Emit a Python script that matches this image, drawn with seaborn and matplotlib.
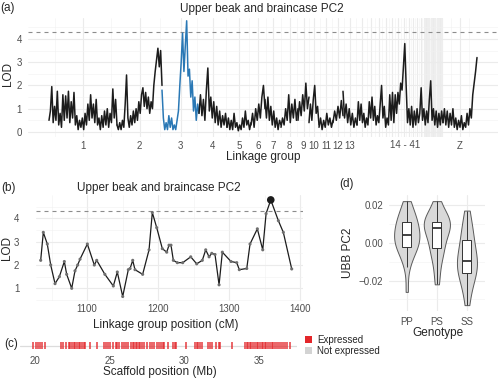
import numpy as np
import pandas as pd
import matplotlib
matplotlib.use('Agg')
import matplotlib.pyplot as plt
import seaborn as sns
from matplotlib.patches import Patch


# panel (a): genome-wide scan, one LOD list per linkage group block
chrom_names = ['1', '2', '3', '4', '5', '6', '7', '8', '9', '10', '11', '12', '13', '14-41', 'Z']
chrom_lengths = [68, 45, 37, 28, 24, 14, 16, 17, 11, 10, 14, 10, 14, 86, 34]
small_chrom_lengths = [10, 8, 7, 7, 6, 6, 5, 5, 4, 4, 4] + [20 / 17] * 17  # groups 14 - 41

lod_1 = [0.5, 0.9, 1.95, 0.4, 1.1, 0.5, 1.75, 0.3, 0.8, 0.2, 1.6, 0.5, 1.55, 0.6, 1.75, 0.4, 1.3,
         0.6, 1.7, 0.3, 0.7, 0.1, 0.5, 0.2, 0.6, 0.1, 0.8, 0.3, 1.2, 0.5, 1.6, 0.6, 1.2, 0.4, 1.4,
         0.3, 0.6, 0.1, 0.7, 0.2, 0.9, 0.3, 1.0, 0.2, 0.8, 0.4, 1.85, 0.6, 1.4, 0.3]
lod_2 = [0.3, 0.1, 0.4, 0.1, 0.5, 0.2, 1.2, 2.45, 0.6, 0.2, 0.7, 0.3, 0.9, 0.4, 1.0, 0.5, 1.3,
         0.8, 1.6, 1.9, 1.1, 1.7, 1.0, 1.5, 0.8, 1.3, 1.0, 2.0, 2.6, 3.1, 3.6, 2.8, 3.5, 2.0]
lod_3 = [1.8, 0.6, 0.1, 0.4, 0.1, 0.7, 0.2, 0.6, 0.1, 0.3, 0.1, 0.5, 0.9, 2.0, 3.0, 4.25, 2.6,
         3.7, 4.78, 2.4, 2.7, 1.5, 2.2, 0.9, 1.5, 0.5, 1.2, 0.8]
lod_4 = [0.8, 1.6, 0.7, 1.4, 0.5, 1.8, 2.75, 0.9, 1.5, 0.6, 1.3, 0.4, 1.1, 0.3, 0.9, 0.2, 0.7,
         0.3, 0.8, 0.2]
lod_5 = [0.2, 0.6, 0.1, 0.5, 0.1, 0.8, 0.2, 0.4, 0.05, 0.3, 0.1, 0.6, 0.2, 0.9, 0.3, 0.5, 0.1, 0.4]
lod_6 = [0.3, 0.8, 0.2, 1.0, 0.5, 1.2, 0.6, 1.5, 2.0, 1.0]
lod_7 = [1.4, 0.6, 1.5, 0.5, 1.1, 0.3, 0.9, 0.2, 0.6, 0.1, 0.5, 0.3]
lod_8 = [0.2, 0.6, 0.3, 1.0, 0.5, 1.6, 0.4, 1.2, 0.6, 1.4, 0.5, 1.0]
lod_9 = [0.5, 1.3, 0.7, 1.6, 0.9, 2.1, 1.0, 1.5]
lod_10 = [0.4, 1.2, 0.5, 1.4, 2.0, 0.8, 1.1, 0.3]
lod_11 = [0.2, 0.6, 0.1, 0.5, 0.2, 0.8, 0.3, 0.6, 0.2, 0.5]
lod_12 = [0.4, 0.9, 0.5, 1.1, 0.6, 1.35, 0.7]
lod_13 = [1.75, 0.6, 1.2, 0.4, 1.0, 0.3, 0.8, 0.2, 0.6, 0.3]
lod_14_41 = [0.3, 1.3, 0.5, 1.2, 0.4, 0.8, 0.2, 0.6, 0.3, 1.3, 0.6, 1.5, 0.5, 1.1, 0.3, 0.7, 0.4,
             1.2, 2.0, 0.6, 1.1, 0.2, 0.6, 0.3, 1.6, 0.5, 1.7, 0.4, 1.6, 0.8, 1.7, 1.2, 2.1, 1.8,
             2.8, 3.8, 2.0, 0.4, 1.0, 0.3, 1.1, 0.2, 0.9, 0.3, 1.0, 0.4, 0.8, 1.9, 0.5, 1.0, 0.3,
             0.9, 0.4, 1.4, 2.2, 0.5, 1.0, 0.3, 0.9, 0.2, 0.8, 0.3, 0.9, 0.4]
lod_z = [0.4, 1.0, 0.3, 0.9, 0.2, 0.8, 0.3, 1.0, 0.2, 0.6, 0.1, 0.5, 0.2, 0.7, 0.1, 0.4, 0.2, 0.8,
         0.3, 1.0, 0.6, 1.6, 2.1, 2.6, 3.2]
lod_by_group = [lod_1, lod_2, lod_3, lod_4, lod_5, lod_6, lod_7, lod_8, lod_9, lod_10,
                lod_11, lod_12, lod_13, lod_14_41, lod_z]
lod_threshold = 4.3

# panel (b): zoom on the QTL linkage group
lg_position_cm = [1034.6, 1038.3, 1043.9, 1048.7, 1054.8, 1060.9, 1067.9, 1071.2, 1078.3, 1082.9,
                  1086.7, 1090.0, 1100.3, 1110.1, 1113.5, 1125.0, 1136.9, 1142.5, 1150.1, 1158.0,
                  1160.5, 1164.2, 1167.4, 1178.2, 1187.2, 1191.8, 1198.0, 1205.9, 1212.1, 1215.3,
                  1218.1, 1221.4, 1227.0, 1234.6, 1245.9, 1254.3, 1262.2, 1267.0, 1271.7, 1275.5,
                  1280.1, 1285.8, 1290.4, 1302.6, 1310.7, 1314.3, 1324.8, 1329.4, 1339.7, 1347.3,
                  1352.0, 1358.6, 1369.3, 1376.3, 1388.1]
lg_lod = [2.2, 3.4, 2.9, 2.0, 1.2, 1.5, 2.15, 1.6, 1.0, 1.75, 2.0, 2.25, 2.9, 2.0, 2.2, 1.6, 1.1,
          1.7, 0.65, 1.8, 1.85, 2.2, 1.8, 1.6, 2.65, 4.25, 3.6, 2.7, 2.55, 2.85, 2.85, 2.2, 2.1,
          2.1, 2.35, 2.05, 2.2, 2.65, 2.35, 2.5, 2.45, 1.15, 2.55, 2.15, 2.1, 1.8, 1.85, 2.9,
          3.55, 2.65, 4.2, 4.79, 3.9, 3.4, 1.83]

# panel (c): genes on the scaffold (Mb)
expressed_genes_mb = [19.9, 20.05, 20.2, 20.35, 20.5, 20.7,
                      21.72, 21.9, 22.08, 22.25, 22.35, 22.48, 22.6, 22.7, 22.82, 22.93, 23.05,
                      23.15, 23.27, 23.38, 23.7, 24.15,
                      24.6, 24.75, 24.9, 25.05, 25.2, 25.4, 25.5, 25.65, 25.8, 25.95, 26.1,
                      26.25, 26.4, 26.55, 26.65, 26.75, 26.85, 26.95, 27.05, 27.15, 27.3, 27.5,
                      27.7, 27.85, 28.0, 28.15, 28.3, 28.45, 28.55, 28.65, 28.9,
                      29.25, 29.35, 29.45, 30.1,
                      30.75, 30.85, 30.95, 31.05, 31.2, 31.6, 31.72, 31.85, 32.15, 32.3, 32.4,
                      33.17,
                      34.1, 34.2, 34.3, 34.4, 34.5, 34.6, 34.75, 34.85, 34.95, 35.05, 35.2,
                      35.3, 35.4, 35.5, 35.6, 35.75, 35.85, 35.95, 36.1, 36.2, 36.35, 36.5,
                      36.6, 36.75, 36.9, 37.05]

# panel (d): UBB PC2 by genotype
genotypes = ['PP', 'PS', 'SS']
pc2_pp = [-0.026, -0.013, -0.009, -0.006, -0.004, -0.003, -0.002, -0.001, 0.000, 0.001, 0.002,
          0.003, 0.004, 0.005, 0.006, 0.007, 0.009, 0.010, 0.011, 0.012, 0.013, 0.015, 0.017,
          0.019, 0.022]
pc2_ps = [-0.022, -0.018, -0.012, -0.008, -0.006, -0.004, -0.003, -0.001, 0.001, 0.003, 0.005,
          0.007, 0.008, 0.009, 0.009, 0.010, 0.010, 0.011, 0.011, 0.012, 0.013, 0.014, 0.016,
          0.019, 0.022]
pc2_ss = [-0.033, -0.027, -0.022, -0.019, -0.017, -0.016, -0.014, -0.012, -0.011, -0.010,
          -0.009, -0.007, -0.005, -0.003, 0.001, 0.003, 0.005, 0.008, 0.012, 0.017]

GRID = '#EBEBEB'
GRID_MINOR = '#F1F1F1'
TICK = '#4D4D4D'
BLACK = '#1C1C1C'
BLUE = '#2A78B5'
RED = '#E3262A'
W, H = 500, 380

sns.set_style('white')
plt.rcParams['font.family'] = ['Liberation Sans', 'DejaVu Sans']

fig = plt.figure(figsize=(W / 100, H / 100), dpi=100)


def add_panel(left, top, right, bottom):
    return fig.add_axes([left / W, 1 - bottom / H, (right - left) / W, (bottom - top) / H])


def put(x, y, s, size=8.5, **kw):
    fig.text(x / W, 1 - y / H, s, ha='center', va='center', fontsize=size, **kw)


def style_axes(ax, xpad, ypad):
    for sp in ax.spines.values():
        sp.set_visible(False)
    ax.tick_params(which='both', length=0, labelsize=7, labelcolor=TICK)
    ax.tick_params(axis='x', pad=xpad)
    ax.tick_params(axis='y', pad=ypad)
    ax.grid(which='major', color=GRID, lw=0.8)
    ax.grid(which='minor', color=GRID_MINOR, lw=0.4)
    ax.set_axisbelow(True)
    ax.set_xlabel('')
    ax.set_ylabel('')


def dashed_threshold(ax):
    ax.axhline(lod_threshold, color='#8C8C8C', lw=0.8, ls=(0, (3.6, 3.6)), zorder=1)


# ---------------- (a) ----------------
ax_a = add_panel(28, 18, 498, 137.3)
starts = np.concatenate([[0], np.cumsum(chrom_lengths)[:-1]])
parts = []
for name, start, length, lod in zip(chrom_names, starts, chrom_lengths, lod_by_group):
    pos = np.linspace(start, start + length, len(lod))
    parts.append(pd.DataFrame({'pos': pos, 'lod': lod, 'chrom': name}))
scan = pd.concat(parts, ignore_index=True)

palette = {c: BLACK for c in chrom_names}
palette['3'] = BLUE
sns.lineplot(data=scan, x='pos', y='lod', hue='chrom', palette=palette, estimator=None,
             legend=False, lw=1.1, ax=ax_a)
dashed_threshold(ax_a)

mids = [s + l / 2 for s, l in zip(starts[:13], chrom_lengths[:13])]
small_edges = starts[13] + np.concatenate([[0], np.cumsum(small_chrom_lengths)])
small_mids = (small_edges[:-1] + small_edges[1:]) / 2
z_mid = starts[14] + chrom_lengths[14] / 2
major = np.concatenate([mids, small_mids, [z_mid]])
minor = np.concatenate([[major[0] - (major[1] - major[0]) / 2],
                        (major[:-1] + major[1:]) / 2,
                        [major[-1] + (major[-1] - major[-2]) / 2]])
ax_a.set_xticks(major)
ax_a.set_xticklabels(chrom_names[:13] + [''] * len(small_mids) + ['Z'])
ax_a.set_xticks(minor, minor=True)
ax_a.set_yticks([0, 1, 2, 3, 4])
ax_a.set_yticks(np.arange(0.5, 5, 1), minor=True)
ax_a.set_xlim(-21, 449)
ax_a.set_ylim(-0.23, 4.9)
style_axes(ax_a, 3, 4.3)
put(405, 144.8, '14 - 41', size=7, color=TICK)

put(7.5, 8, '(a)')
put(262, 9, 'Upper beak and braincase PC2')
put(263.5, 157, 'Linkage group')
put(8, 74, 'LOD', rotation=90)

# ---------------- (b) ----------------
ax_b = add_panel(36, 195, 303, 301.4)
lg = pd.DataFrame({'cm': lg_position_cm, 'lod': lg_lod})
sns.lineplot(data=lg, x='cm', y='lod', color=BLACK, lw=0.9, sort=False, ax=ax_b)
sns.scatterplot(data=lg, x='cm', y='lod', color='#6E6E6E', s=5, edgecolor='none', ax=ax_b, zorder=3)
peak = lg.loc[[lg['lod'].idxmax()]]
sns.scatterplot(data=peak, x='cm', y='lod', color=BLACK, s=30, edgecolor='none', ax=ax_b, zorder=4)
dashed_threshold(ax_b)
ax_b.set_xticks([1100, 1200, 1300, 1400])
ax_b.set_xticks([1050, 1150, 1250, 1350], minor=True)
ax_b.set_yticks([1, 2, 3, 4])
ax_b.set_yticks([0.5, 1.5, 2.5, 3.5, 4.5], minor=True)
ax_b.set_xlim(1028, 1404)
ax_b.set_ylim(0.44, 5.0)
style_axes(ax_b, 2, 12)

put(8, 188, '(b)')
put(159, 188.5, 'Upper beak and braincase PC2')
put(165.5, 325, 'Linkage group position (cM)')
put(7, 248, 'LOD', rotation=90)

# ---------------- (c) ----------------
ax_c = add_panel(20, 337, 297, 354)
ax_c.axhline(0.5, color='#DCDCDC', lw=0.9, zorder=0)
ax_c.vlines(expressed_genes_mb, 0.28, 0.72, color=RED, lw=1.1, alpha=0.9)
ax_c.set_xlim(19.0, 37.55)
ax_c.set_ylim(0, 1)
ax_c.set_xticks([20, 25, 30, 35])
ax_c.set_yticks([])
style_axes(ax_c, 1.5, 0)
ax_c.grid(False)

put(11.5, 344, '(c)')
put(160, 372, 'Scaffold position (Mb)')
fig.legend(handles=[Patch(facecolor=RED, edgecolor='none'), Patch(facecolor='#D3D3D3', edgecolor='none')],
           labels=['Expressed', 'Not expressed'], loc='center left',
           bbox_to_anchor=(305 / W, 1 - 345.5 / H), frameon=False, fontsize=7,
           handlelength=0.75, handleheight=0.75, handletextpad=0.5, labelspacing=0.05,
           borderpad=0, borderaxespad=0)

# ---------------- (d) ----------------
ax_d = add_panel(388.7, 194.7, 485, 311)
ubb = pd.DataFrame({'genotype': ['PP'] * len(pc2_pp) + ['PS'] * len(pc2_ps) + ['SS'] * len(pc2_ss),
                    'pc2': pc2_pp + pc2_ps + pc2_ss})
sns.violinplot(data=ubb, x='genotype', y='pc2', order=genotypes, color='#D9D9D9', saturation=1,
               linecolor='#5A5A5A', linewidth=0.7, inner=None, cut=0, width=0.87, ax=ax_d)
sns.boxplot(data=ubb, x='genotype', y='pc2', order=genotypes, color='white', saturation=1,
            linecolor='#333333', linewidth=0.7, width=0.3, showfliers=False, showcaps=False,
            medianprops={'linewidth': 1.3}, ax=ax_d)
ax_d.set_yticks([-0.02, 0.0, 0.02])
ax_d.set_yticklabels(['\u22120.02', '0.00', '0.02'])
ax_d.set_yticks([-0.03, -0.01, 0.01], minor=True)
ax_d.set_xlim(-0.6, 2.6)
ax_d.set_ylim(-0.0361, 0.0254)
style_axes(ax_d, 4, 4)
ax_d.xaxis.grid(True, which='major', color=GRID, lw=0.8)

put(346.7, 184, '(d)')
put(437.5, 333, 'Genotype')
put(348, 252.5, 'UBB PC2', rotation=90)

fig.savefig('out.png', dpi=100)
